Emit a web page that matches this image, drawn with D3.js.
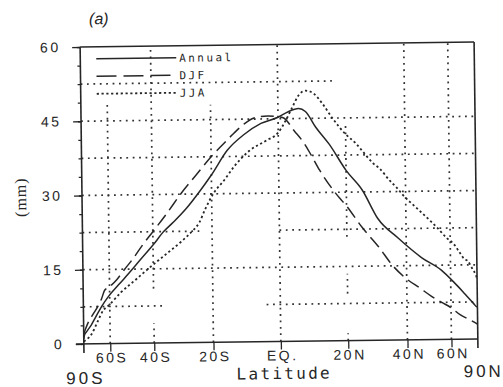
<!DOCTYPE html>
<html>
<head>
<meta charset="utf-8">
<script src="https://cdn.jsdelivr.net/npm/d3@7/dist/d3.min.js"></script>
<style>
  html, body { margin: 0; padding: 0; background: #fff; }
  svg { display: block; }
</style>
</head>
<body>
<svg id="chart" width="503" height="387"></svg>
<script>
// Zonal-mean precipitable water (mm) against latitude, area-weighted (sine) latitude axis.
const seriesNames = ["Annual", "DJF", "JJA"];

const annual = [[-90,1.0],[-85,1.8],[-80,2.5],[-74,3.8],[-70,5.3],[-65,7.6],[-61,9.4],[-55,11.9],
  [-50,14.2],[-45,16.9],[-40,19.8],[-36,22.5],[-32.5,24.4],[-28,27.2],[-24,30.3],[-20,33.8],
  [-15,38.8],[-10,41.9],[-5,44.1],[0,45.3],[3,46.4],[6,47.0],[8,46.4],[11,43.2],[15,39.7],
  [20,34.4],[25,30.4],[30,24.6],[37,20.6],[46,16.6],[55,14.0],[62,11.5],[68,9.6],[72,8.5],
  [80,7.0],[85,6.5],[90,6.5]];

const djf = [[-90,2.0],[-83,2.8],[-78,4.2],[-72,6.0],[-68,7.5],[-65,9.2],[-63,10.8],[-60,11.5],
  [-56,12.9],[-52,15.0],[-48,17.2],[-44,19.9],[-40,22.5],[-35,26.0],[-30,30.0],[-25,33.7],
  [-20,37.5],[-16,40.2],[-13,42.2],[-10,44.0],[-7,45.2],[-3,45.6],[0,45.4],[1.5,45.2],
  [4.7,42.5],[7.6,39.9],[9.6,37.5],[12,34.5],[16.5,30.0],[20,27.2],[25,22.7],[30,19.0],
  [35,15.0],[40,12.3],[45,10.5],[50,8.8],[55,7.5],[60,6.4],[66,4.9],[75,3.8],[90,3.0]];

const jja = [[-90,0.5],[-80,0.9],[-74,1.9],[-68,4.6],[-64,6.8],[-61,7.6],[-54,10.3],[-47,12.9],
  [-42,15.0],[-36,17.6],[-30,20.4],[-26.3,22.5],[-24,24.2],[-22,27.0],[-19.5,30.0],[-16,32.8],
  [-13,35.5],[-8.5,38.6],[-3.6,40.6],[0,42.2],[2.2,44.6],[4.2,47.3],[6.1,49.7],[8.1,50.6],
  [10.5,50.0],[13,48.0],[16,45.0],[20,41.7],[23.2,39.8],[25.3,38.2],[28.6,35.8],[30.8,34.7],
  [34.3,32.2],[36.7,30.8],[39.1,29.2],[44.3,26.6],[50,24.0],[53.2,22.6],[58,20.5],[62,19.3],
  [66,17.5],[69.4,16.2],[72.4,15.8],[78,14.1],[84,12.9],[90,12.2]];

const latTicks = [-60, -40, -20, 0, 20, 40, 60];
const latTickLabels = ["60S", "40S", "20S", "EQ.", "20N", "40N", "60N"];
const yTicks = [0, 15, 30, 45, 60];
const yMinorTicks = d3.range(0, 60.01, 3.75);

// dotted reference lines: [value, from, to]
const hGrid = [[52.5,-90,16],[45,-90,90],[37.5,-90,90],[30,-90,90],[22.5,-90,-24],[22.5,0,90],
  [15,-90,90],[7.5,-90,-36],[7.5,-4,90]];
const vGrid = [[-60,0,49],[-40,11,60],[-40,0,4],[-20,0,48],[0,0,60],[20,21,44],[20,9.5,13.5],
  [20,0,1.5],[40,0,60],[60,0,60]];

const plotLeft = 82, plotRight = 476, plotTop = 44.5, plotBottom = 341.5;
const sinD = d => Math.sin(d * Math.PI / 180);

const x = d3.scaleLinear().domain([-1, 1]).range([plotLeft, plotRight]);
const y = d3.scaleLinear().domain([0, 60]).range([plotBottom, plotTop]);
const xl = lat => x(sinD(lat));

const ink = "#262626";
const svg = d3.select("#chart");
const g = svg.append("g").attr("transform", "rotate(-0.72, 279, 195)");

// grid
const grid = g.append("g").attr("stroke", "#333").attr("stroke-width", 1.7)
  .attr("stroke-dasharray", "1.8,4.6").attr("fill", "none");
grid.selectAll("line.h").data(hGrid).join("line").attr("class", "h")
  .attr("x1", d => xl(d[1])).attr("x2", d => xl(d[2]))
  .attr("y1", d => y(d[0])).attr("y2", d => y(d[0]));
grid.selectAll("line.v").data(vGrid).join("line").attr("class", "v")
  .attr("x1", d => xl(d[0])).attr("x2", d => xl(d[0]))
  .attr("y1", d => y(d[1])).attr("y2", d => y(d[2]));

// axes
const yAxis = d3.axisLeft(y).tickValues(yTicks).tickSize(8).tickPadding(11.5);
const yMinor = d3.axisLeft(y).tickValues(yMinorTicks).tickSize(3).tickFormat("");
const xAxis = d3.axisBottom(x).tickValues(latTicks.map(sinD)).tickSize(8).tickPadding(1)
  .tickFormat((d, i) => latTickLabels[i]);

const gy = g.append("g").attr("transform", `translate(${plotLeft},0)`).call(yAxis);
const gym = g.append("g").attr("transform", `translate(${plotLeft},0)`).call(yMinor);
const gx = g.append("g").attr("transform", `translate(0,${plotBottom})`).call(xAxis);
[gy, gym, gx].forEach(a => {
  a.select(".domain").remove();
  a.selectAll(".tick line").attr("stroke", ink).attr("stroke-width", 1.3);
});
gy.selectAll(".tick text").attr("font-family", "Liberation Sans, Arial, sans-serif")
  .attr("font-size", 14).attr("letter-spacing", 2.5).attr("fill", ink);
gx.selectAll(".tick text").attr("font-family", "Liberation Sans, Arial, sans-serif")
  .attr("font-size", 14).attr("letter-spacing", 2.5).attr("fill", ink).attr("dx", 1.2);

// frame
const frame = g.append("g").attr("stroke", ink).attr("stroke-width", 1.6).attr("fill", "none");
frame.append("line").attr("x1", plotLeft).attr("x2", plotLeft).attr("y1", plotTop).attr("y2", plotBottom + 9);
frame.append("line").attr("x1", plotRight).attr("x2", plotRight).attr("y1", plotTop).attr("y2", plotBottom + 9);
frame.append("line").attr("x1", plotLeft).attr("x2", plotRight).attr("y1", plotTop).attr("y2", plotTop);
frame.append("line").attr("x1", plotLeft - 8).attr("x2", plotRight).attr("y1", plotBottom).attr("y2", plotBottom);

// series
const styles = {
  Annual: { dash: null, width: 1.5 },
  DJF: { dash: "13,6", width: 1.5 },
  JJA: { dash: "2.2,2.6", width: 1.8 }
};
const seriesData = { Annual: annual, DJF: djf, JJA: jja };
const line = d3.line().x(d => xl(d[0])).y(d => y(d[1])).curve(d3.curveMonotoneX);

seriesNames.forEach(name => {
  g.append("path").datum(seriesData[name])
    .attr("fill", "none").attr("stroke", ink)
    .attr("stroke-width", styles[name].width)
    .attr("stroke-dasharray", styles[name].dash)
    .attr("d", line);
});

// legend
const legendY = [56.5, 74, 91.5];
const legend = g.append("g");
seriesNames.forEach((name, i) => {
  legend.append("line").attr("x1", 98).attr("x2", 178)
    .attr("y1", legendY[i]).attr("y2", legendY[i])
    .attr("stroke", ink).attr("stroke-width", styles[name].width)
    .attr("stroke-dasharray", name === "DJF" ? "20,7" : styles[name].dash);
  legend.append("text").attr("x", 181).attr("y", legendY[i] + 4)
    .attr("font-family", "DejaVu Sans Mono, monospace").attr("font-size", 11)
    .attr("letter-spacing", 2.4).attr("fill", ink).text(name);
});

// titles and labels
g.append("text").attr("x", 101).attr("y", 22).attr("text-anchor", "middle")
  .attr("font-family", "Liberation Sans, Arial, sans-serif").attr("font-style", "italic")
  .attr("font-size", 16).attr("fill", ink).text("(a)");

g.append("text").attr("transform", "translate(26,194) rotate(-90)").attr("text-anchor", "middle")
  .attr("font-family", "Liberation Serif, serif").attr("font-size", 16)
  .attr("letter-spacing", 1).attr("fill", ink).text("(mm)");

g.append("text").attr("x", 282).attr("y", 379).attr("text-anchor", "middle")
  .attr("font-family", "DejaVu Sans Mono, monospace").attr("font-size", 16)
  .attr("letter-spacing", 2.3).attr("fill", ink).text("Latitude");

g.append("text").attr("x", xl(-90) + 1.5).attr("y", 381.5).attr("text-anchor", "middle")
  .attr("font-family", "Liberation Sans, Arial, sans-serif").attr("font-size", 17)
  .attr("letter-spacing", 3).attr("fill", ink).text("90S");

g.append("text").attr("x", xl(90) + 5.5).attr("y", 379.5).attr("text-anchor", "middle")
  .attr("font-family", "Liberation Sans, Arial, sans-serif").attr("font-size", 17)
  .attr("letter-spacing", 3).attr("fill", ink).text("90N");
</script>
</body>
</html>
